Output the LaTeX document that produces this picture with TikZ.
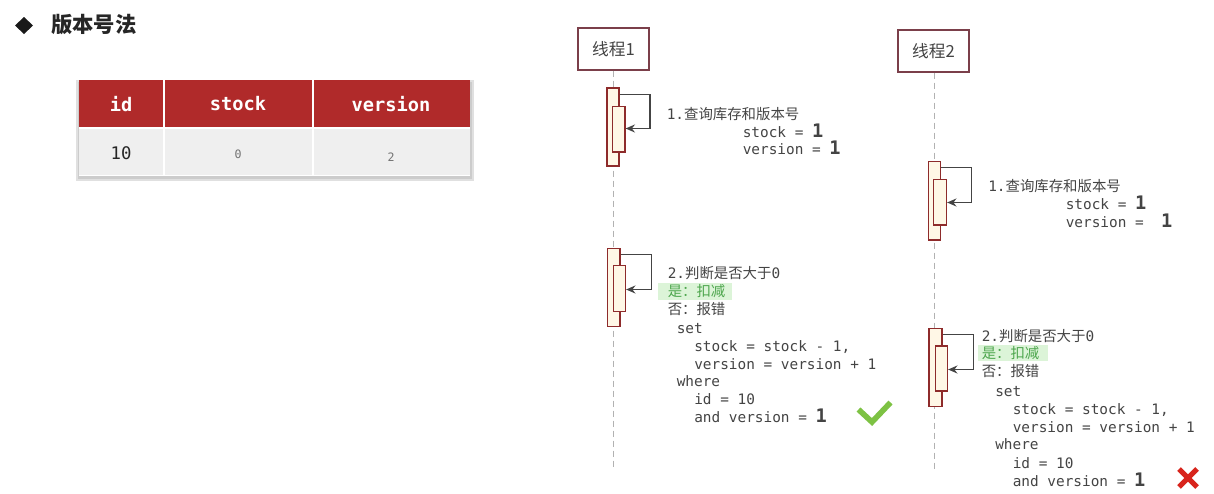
\documentclass[tikz,border=0pt]{standalone}
\usepackage{fontspec}
\setmonofont{DejaVu Sans Mono}
\newfontfamily\cjk{Noto Sans CJK SC}
\usetikzlibrary{arrows.meta,fit}
\definecolor{hdr}{HTML}{B02A2A}
\definecolor{rowbg}{HTML}{EFEFEF}
\definecolor{lifebox}{HTML}{7B3F4A}
\definecolor{actb}{HTML}{8E2B2B}
\definecolor{actfill}{HTML}{FFF7E6}
\definecolor{txt}{HTML}{444444}
\definecolor{okgreen}{HTML}{7DC243}
\definecolor{badred}{HTML}{D8241C}
\definecolor{hlbg}{HTML}{DCF4D8}
\definecolor{hltxt}{HTML}{4DA64D}
\newcommand\bigone{{\fontsize{14}{14}\selectfont\bfseries 1}}
\begin{document}
\begin{tikzpicture}[x=0.75pt,y=-0.75pt,
  code/.style={anchor=base west,inner sep=0pt,text=txt,font=\ttfamily\fontsize{10.8}{13}\selectfont},
  hdtext/.style={text=white,inner sep=0pt,font=\ttfamily\bfseries\fontsize{14}{16}\selectfont},
  thread/.style={draw=lifebox,line width=1pt,fill=white,inner sep=0pt},
  threadtext/.style={inner sep=0pt,text=txt,font=\cjk\fontsize{12.5}{14}\selectfont},
  life/.style={draw=black!30,line width=1pt,dash pattern=on 4.5pt off 3pt},
  actout/.style={draw=actb,fill=actfill,line width=0.9pt,inner sep=0pt},
  arr/.style={draw=txt,line width=1.4pt,-{Stealth[length=7pt,width=6pt]}},
  hl/.style={fill=hlbg,draw=none}
]
\useasboundingbox (0,0) rectangle (1214,493);
\fill[white] (0,0) rectangle (1214,493);

% title
\fill[black!90] (24,17) -- (33,25.5) -- (24,34) -- (15,25.5) -- cycle;
\node[anchor=west,inner sep=0pt,text=black!85,font=\cjk\bfseries\fontsize{16}{18}\selectfont] (title) at (51,25) {版本号法};

% table
\fill[black!12] (76,80) rectangle (474,181);
\fill[black!20] (78,82) rectangle (472,179);
\fill[white] (79,80) rectangle (470,176);
\fill[hdr] (79,80) rectangle (163,127);
\fill[hdr] (164.5,80) rectangle (312,127);
\fill[hdr] (313.5,80) rectangle (470,127);
\fill[rowbg] (79,129) rectangle (163,175);
\fill[rowbg] (164.5,129) rectangle (312,175);
\fill[rowbg] (313.5,129) rectangle (470,175);
\node[hdtext] (hid) at (121,104) {id};
\node[hdtext] (hstock) at (238,104) {stock};
\node[hdtext] (hver) at (391,104) {version};
\node[inner sep=0pt,text=black!85,font=\ttfamily\fontsize{13}{15}\selectfont] (vid) at (121,153) {10};
\node[inner sep=0pt,text=black!55,font=\ttfamily\fontsize{8.7}{10}\selectfont] (vstock) at (238,154) {0};
\node[inner sep=0pt,text=black!55,font=\ttfamily\fontsize{8.7}{10}\selectfont] (vver) at (391,157) {2};

% threads
\node[thread,fit={(578,28) (649,70)}] (t1) {};
\node[threadtext] (t1l) at (t1.center) {线程1};
\node[thread,fit={(898,30) (969,72)}] (t2) {};
\node[threadtext] (t2l) at (t2.center) {线程2};
\coordinate (t1end) at (613.5,468);
\coordinate (t2end) at (934.5,470);
\draw[life] (t1.south -| t1end) -- (t1end);
\draw[life] (t2.south -| t2end) -- (t2end);

% thread 1 step 1
\node[actout,fit={(607,88) (619,166)}] (a1) {};
\node[actout,fit={(612.5,106.5) (625,152)}] (b1) {};
\coordinate (p1) at (650,94.5);
\coordinate (q1) at (650,128.5);
\draw[arr] (a1.east |- p1) -- (p1) -- (q1) -- (b1.east |- q1);
\node[code] (s11) at (666.5,119) {1.{\cjk 查询库存和版本号}};
\node[code] (s12) at (742.5,137.5) {stock = \bigone};
\node[code] (s13) at (742.5,154) {version = \bigone};

% thread 2 step 1
\node[actout,fit={(928.5,161.5) (940.5,240)}] (a2) {};
\node[actout,fit={(933.5,179.5) (946.5,225)}] (b2) {};
\coordinate (p2) at (971.5,167.5);
\coordinate (q2) at (971.5,202.5);
\draw[arr] (a2.east |- p2) -- (p2) -- (q2) -- (b2.east |- q2);
\node[code] (s21) at (988,191.5) {1.{\cjk 查询库存和版本号}};
\node[code] (s22) at (1065.5,209.5) {stock = \bigone};
\node[code] (s23) at (1065.5,227) {version =\ \ \bigone};

% thread 1 step 2
\node[actout,fit={(607.5,248.5) (620,326.5)}] (a3) {};
\node[actout,fit={(613.5,265.5) (625.5,311.5)}] (b3) {};
\coordinate (p3) at (651.5,254.5);
\coordinate (q3) at (651.5,289.5);
\draw[arr] (a3.east |- p3) -- (p3) -- (q3) -- (b3.east |- q3);
\fill[hl] (658,283) rectangle (731.5,300);
\node[code] (u1) at (667.5,278) {2.{\cjk 判断是否大于}0};
\node[code,text=hltxt] (u2) at (667.5,296.5) {\cjk 是：扣减};
\node[code] (u3) at (667.5,314) {\cjk 否：报错};
\node[code] (u4) at (676.5,333.5) {set};
\node[code] (u5) at (694,351.5) {stock = stock - 1,};
\node[code] (u6) at (694,369) {version = version + 1};
\node[code] (u7) at (676.5,386.5) {where};
\node[code] (u8) at (694,404.5) {id = 10};
\node[code] (u9) at (694,422.5) {and version = \bigone};
\draw[okgreen,line width=4.2pt,line join=miter,line cap=butt] (858.5,409.5) -- (872,422) -- (890.5,402.5);

% thread 2 step 2
\node[actout,fit={(929,328.5) (942,406.5)}] (a4) {};
\node[actout,fit={(935.5,346) (947.5,391)}] (b4) {};
\coordinate (p4) at (973.5,334.5);
\coordinate (q4) at (973.5,369.5);
\draw[arr] (a4.east |- p4) -- (p4) -- (q4) -- (b4.east |- q4);
\fill[hl] (978,345) rectangle (1048,360.5);
\node[code] (v1) at (981.5,341.5) {2.{\cjk 判断是否大于}0};
\node[code,text=hltxt] (v2) at (981.5,358) {\cjk 是：扣减};
\node[code] (v3) at (981.5,376.5) {\cjk 否：报错};
\node[code] (v4) at (995,396) {set};
\node[code] (v5) at (1012.5,414.5) {stock = stock - 1,};
\node[code] (v6) at (1012.5,432) {version = version + 1};
\node[code] (v7) at (995,449.5) {where};
\node[code] (v8) at (1012.5,468) {id = 10};
\node[code] (v9) at (1012.5,486) {and version = \bigone};
\draw[badred,line width=3.8pt] (1179,469) -- (1197,487) (1197,469) -- (1179,487);
\end{tikzpicture}
\end{document}
